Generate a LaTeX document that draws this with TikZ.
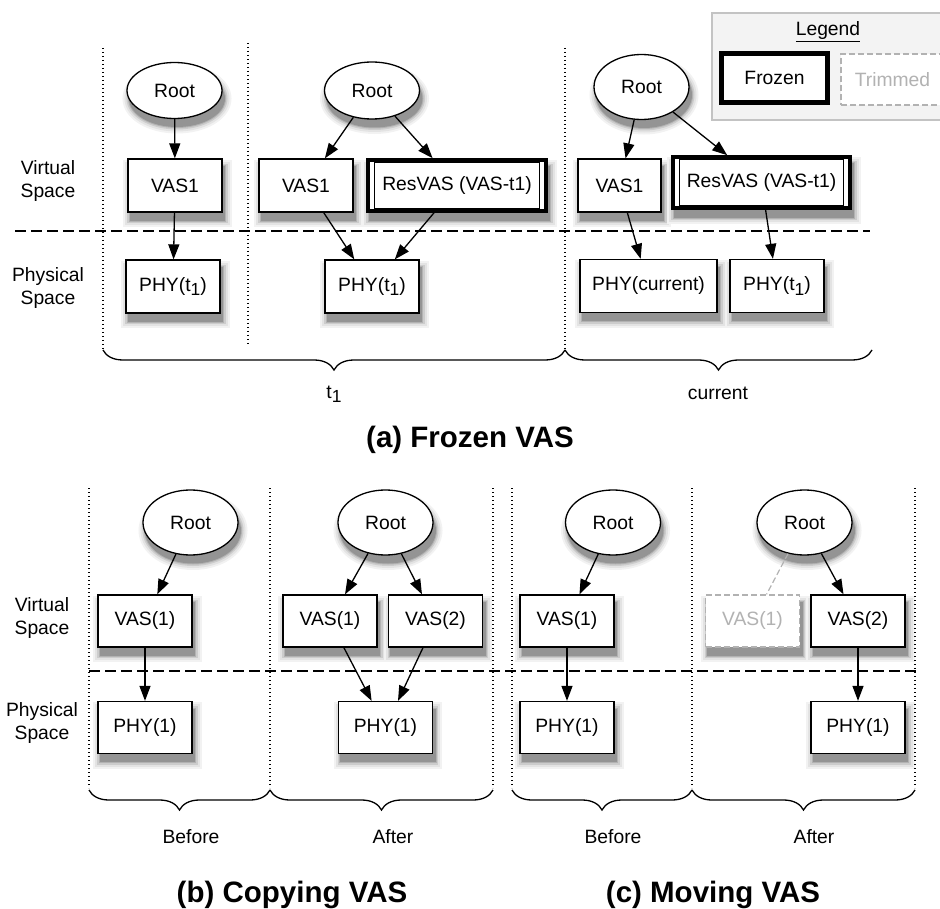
\documentclass[tikz,border=0pt]{standalone}
\usepackage{fontspec}
\setmainfont{Liberation Sans}
\usetikzlibrary{shapes.geometric,arrows.meta,decorations.pathreplacing}

\definecolor{legendbg}{RGB}{243,243,243}
\definecolor{legendrule}{RGB}{195,195,195}
\definecolor{trimgray}{RGB}{178,178,178}

\pgfdeclarelayer{background}
\pgfsetlayers{background,main}

% lowered, slightly smaller digit used as an index (t1)
\newcommand\lowidx[1]{\raisebox{-0.4ex}{\fontsize{17.5}{17.5}\selectfont #1}}

% soft drop shadows: widening outlines in lighter greys under a darker core
\newcommand\rectshadow[1]{%
  \foreach \w/\c in {13pt/5,9pt/11,5pt/20,2pt/30}{%
    \draw[black!\c, line width=\w]
      ([shift={(2.5pt,-8pt)}]#1.south west) rectangle ([shift={(2.5pt,-8pt)}]#1.north east);}%
  \fill[black!42]
      ([shift={(2.5pt,-8pt)}]#1.south west) rectangle ([shift={(2.5pt,-8pt)}]#1.north east);}
% #1 node name, #2 vertical radius
\newcommand\ellshadow[2]{%
  \foreach \w/\c in {13pt/5,9pt/11,5pt/20,2pt/30}{%
    \draw[black!\c, line width=\w]
      ([shift={(2.5pt,-8pt)}]#1.center) ellipse [x radius=48pt, y radius=#2];}%
  \fill[black!42]
      ([shift={(2.5pt,-8pt)}]#1.center) ellipse [x radius=48pt, y radius=#2];}

\tikzset{
  every node/.style={font=\fontsize{19.3}{23}\selectfont},
  box/.style={draw, line width=1.3pt, fill=white, minimum width=94pt,
      minimum height=53pt, inner sep=0pt},
  rootnode/.style={ellipse, draw, line width=1.3pt, fill=white,
      minimum width=95pt, minimum height=56pt, inner sep=0pt},
  frozen/.style={box, line width=3.6pt},
  innerrule/.style={line width=1.1pt},
  trimmed/.style={box, draw=trimgray, dash pattern=on 6pt off 3pt,
      text=trimgray},
  arr/.style={-{Triangle[length=15pt,width=11pt]}, line width=1.3pt},
  trimlink/.style={draw=trimgray, line width=1.2pt, dash pattern=on 6pt off 3pt},
  divider/.style={line width=1.5pt, dash pattern=on 1.4pt off 2.6pt},
  layerline/.style={line width=1.5pt, dash pattern=on 11pt off 5pt},
  brc/.style={decorate, decoration={brace, amplitude=20pt}, line width=1.3pt},
  lbl/.style={align=center},
  caption/.style={font=\fontsize{29.5}{33}\selectfont\bfseries},
}

\begin{document}
\begin{tikzpicture}[x=1pt, y=-1pt]
\useasboundingbox (0,0) rectangle (940,909);

% ---------------- (a) Frozen VAS ----------------
\draw[divider] (103,48) -- (103,350);
\draw[divider] (248,43) -- (248,345);
\draw[divider] (565,48) -- (565,350);
\draw[layerline] (15,231) -- (870,231);

\node[lbl] (avs) at (48,181) {Virtual\\Space};
\node[lbl] (aps) at (48,288) {Physical\\Space};

\node[rootnode] (ar1) at (174.5,90.5) {Root};
\node[box] (av1) at (175,185.5) {VAS1};
\node[box] (ap1) at (173,286.5) {PHY(t\lowidx{1})};

\node[rootnode, minimum height=57pt] (ar2) at (372,90.5) {Root};
\node[box] (av2) at (306,185.5) {VAS1};
\node[frozen, minimum width=178pt, minimum height=51pt] (ares2) at (457,185.5) {ResVAS (VAS-t1)};
\draw[innerrule] ([shift={(8pt,-4.5pt)}]ares2.north west) rectangle ([shift={(-8pt,4.5pt)}]ares2.south east);
\node[box] (ap2) at (372,286.5) {PHY(t\lowidx{1})};

\node[rootnode, minimum height=65pt] (ar3) at (641.5,87) {Root};
\node[box, minimum width=83pt] (av3) at (619.5,185.5) {VAS1};
\node[frozen, minimum width=177pt, minimum height=51pt] (ares3) at (761.5,182.5) {ResVAS (VAS-t1)};
\draw[innerrule] ([shift={(8pt,-4.5pt)}]ares3.north west) rectangle ([shift={(-8pt,4.5pt)}]ares3.south east);
\node[box, minimum width=137pt] (ap3a) at (648.5,286) {PHY(current)};
\node[box] (ap3b) at (777,286) {PHY(t\lowidx{1})};

\draw[arr] (ar1) -- (av1);
\draw[arr] (av1) -- (ap1);
\draw[arr] (ar2) -- (av2);
\draw[arr] (ar2) -- (ares2);
\draw[arr] (av2) -- (ap2);
\draw[arr] (ares2) -- (ap2);
\draw[arr] (ar3) -- (av3);
\draw[arr] (ar3) -- (ares3);
\draw[arr] (av3) -- (ap3a);
\draw[arr] (ares3) -- (ap3b);

\coordinate (ab0) at (103,350);
\coordinate (ab1) at (565,350);
\coordinate (ab2) at (872,350);
\draw[brc] (ab1) -- (ab0);
\draw[brc] (ab2) -- (ab1);
\node (at1) at (334,394) {t\lowidx{1}};
\node (acur) at (718,393) {current};
\node[caption] (acap) at (470,440) {(a) Frozen VAS};

% ---------------- legend ----------------
\draw[fill=legendbg, draw=legendrule, line width=1.2pt] (712,13) rectangle (960,120);
\node (lgtitle) at (828,32) {\underline{Legend}};
\node[frozen, minimum width=107pt, minimum height=50pt] (lgfrozen) at (774.5,78) {Frozen};
\draw[innerrule] ([shift={(4.5pt,-4.5pt)}]lgfrozen.north west) rectangle ([shift={(-4.5pt,4.5pt)}]lgfrozen.south east);
\node[trimmed, minimum width=103pt, minimum height=51pt] (lgtrim) at (892.5,79.5) {Trimmed};

% ---------------- (b) Copying VAS ----------------
\draw[divider] (89,488) -- (89,788);
\draw[divider] (270,488) -- (270,788);
\draw[divider] (493,488) -- (493,788);
\draw[layerline] (89,671) -- (917,671);

\node[lbl] (bvs) at (42,618) {Virtual\\Space};
\node[lbl] (bps) at (42,723) {Physical\\Space};

\node[rootnode, minimum height=65pt] (br1) at (190.5,522.5) {Root};
\node[box, minimum height=52pt] (bv1) at (145,621) {VAS(1)};
\node[box, minimum height=52pt] (bp1) at (145,727.5) {PHY(1)};

\node[rootnode, minimum height=65pt] (br2) at (385.5,522.5) {Root};
\node[box, minimum height=52pt] (bv2) at (330,621) {VAS(1)};
\node[box, minimum height=52pt] (bv3) at (435.5,621) {VAS(2)};
\node[box, minimum height=52pt] (bp2) at (385.5,727.5) {PHY(1)};

\draw[arr] (br1) -- (bv1);
\draw[arr] (bv1) -- (bp1);
\draw[arr] (br2) -- (bv2);
\draw[arr] (br2) -- (bv3);
\draw[arr] (bv2) -- (bp2);
\draw[arr] (bv3) -- (bp2);

\coordinate (bb0) at (89,790);
\coordinate (bb1) at (270,790);
\coordinate (bb2) at (493,790);
\draw[brc] (bb1) -- (bb0);
\draw[brc] (bb2) -- (bb1);
\node (bbefore) at (191,837) {Before};
\node (bafter) at (393,837) {After};
\node[caption] (bcap) at (292,895) {(b) Copying VAS};

% ---------------- (c) Moving VAS ----------------
\draw[divider] (512,488) -- (512,788);
\draw[divider] (692,488) -- (692,788);
\draw[divider] (915,488) -- (915,788);

\node[rootnode, minimum height=65pt] (cr1) at (613,522.5) {Root};
\node[box, minimum height=52pt] (cv1) at (567,621) {VAS(1)};
\node[box, minimum height=52pt] (cp1) at (567,727.5) {PHY(1)};

\node[rootnode, minimum height=65pt] (cr2) at (804.5,522.5) {Root};
\node[trimmed, minimum height=52pt] (cvt) at (752.5,621) {VAS(1)};
\node[box, minimum height=52pt] (cv2) at (858,621) {VAS(2)};
\node[box, minimum height=52pt] (cp2) at (858,727.5) {PHY(1)};

\draw[arr] (cr1) -- (cv1);
\draw[arr] (cv1) -- (cp1);
\draw[trimlink] (cr2) -- (cvt);
\draw[arr] (cr2) -- (cv2);
\draw[arr] (cv2) -- (cp2);

\coordinate (cb0) at (512,790);
\coordinate (cb1) at (692,790);
\coordinate (cb2) at (915,790);
\draw[brc] (cb1) -- (cb0);
\draw[brc] (cb2) -- (cb1);
\node (cbefore) at (613,837) {Before};
\node (cafter) at (814,837) {After};
\node[caption] (ccap) at (713,895) {(c) Moving VAS};

% ---------------- drop shadows, beneath everything ----------------
\begin{pgfonlayer}{background}
  \foreach \nd in {av1,ap1,av2,ares2,ap2,av3,ares3,ap3a,ap3b,
                   bv1,bp1,bv2,bv3,bp2,cv1,cp1,cvt,cv2,cp2}{\rectshadow{\nd}}
  \foreach \nd/\ry in {ar1/28.5pt,ar2/29pt,ar3/33pt,br1/33pt,br2/33pt,
                       cr1/33pt,cr2/33pt}{\ellshadow{\nd}{\ry}}
\end{pgfonlayer}
\end{tikzpicture}
\end{document}
